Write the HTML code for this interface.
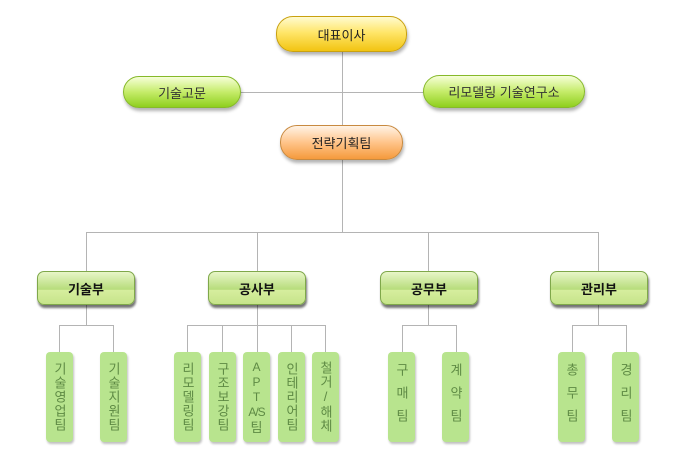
<!DOCTYPE html>
<html><head><meta charset="utf-8"><style>
body{margin:0;width:683px;height:458px;background:#fff;position:relative;overflow:hidden;font-family:"Liberation Sans","Noto Sans CJK KR",sans-serif}
.l{position:absolute;background:#b4b4b4}
.p{position:absolute;display:flex;align-items:center;justify-content:center;font-size:13px;box-sizing:border-box}
.pill{border-radius:17px;box-shadow:1px 3px 3px rgba(0,0,0,.3)}
.y{background:linear-gradient(#fffbd0,#ffe66a 45%,#f2c412);color:#222;border:1px solid #c9a10f}
.g{background:linear-gradient(#f6ffd8,#c5ec6a 50%,#8fcf1e);color:#333;border:1px solid #86b92a}
.o{background:linear-gradient(#fff3e6,#ffc48a 50%,#f59a3c);color:#222;border:1px solid #c88a40}
.d{border-radius:7px;background:linear-gradient(#e8f6c8,#b6dc7a 55%,#d6ee9e 56%,#c6e48a);color:#111;font-weight:bold;border:1px solid #7fa84a;box-shadow:1px 3px 2px rgba(0,0,0,.55)}
.s{border-radius:4px;background:#b8e48e;color:#5e8a44;width:27px;height:90px;top:352px;writing-mode:vertical-rl;text-orientation:upright;font-size:13px;letter-spacing:1px;box-shadow:1px 2px 2px rgba(0,0,0,.25)}
.apt{writing-mode:horizontal-tb;flex-direction:column;line-height:15px;font-size:12px;letter-spacing:0;text-align:center}
</style></head><body>
<div class="l" style="left:342px;top:52px;width:1px;height:181px"></div>
<div class="l" style="left:241px;top:92px;width:183px;height:1px"></div>
<div class="l" style="left:86px;top:232px;width:513px;height:1px"></div>
<div class="l" style="left:86px;top:232px;width:1px;height:40px"></div>
<div class="l" style="left:257px;top:232px;width:1px;height:40px"></div>
<div class="l" style="left:428px;top:232px;width:1px;height:40px"></div>
<div class="l" style="left:598px;top:232px;width:1px;height:40px"></div>
<div class="l" style="left:86px;top:305px;width:1px;height:20px"></div>
<div class="l" style="left:257px;top:305px;width:1px;height:47px"></div>
<div class="l" style="left:428px;top:305px;width:1px;height:20px"></div>
<div class="l" style="left:598px;top:305px;width:1px;height:20px"></div>
<div class="l" style="left:59px;top:325px;width:55px;height:1px"></div>
<div class="l" style="left:59px;top:325px;width:1px;height:27px"></div>
<div class="l" style="left:113px;top:325px;width:1px;height:27px"></div>
<div class="l" style="left:187px;top:325px;width:139px;height:1px"></div>
<div class="l" style="left:187px;top:325px;width:1px;height:27px"></div>
<div class="l" style="left:222px;top:325px;width:1px;height:27px"></div>
<div class="l" style="left:291px;top:325px;width:1px;height:27px"></div>
<div class="l" style="left:325px;top:325px;width:1px;height:27px"></div>
<div class="l" style="left:402px;top:325px;width:55px;height:1px"></div>
<div class="l" style="left:402px;top:325px;width:1px;height:27px"></div>
<div class="l" style="left:456px;top:325px;width:1px;height:27px"></div>
<div class="l" style="left:572px;top:325px;width:55px;height:1px"></div>
<div class="l" style="left:572px;top:325px;width:1px;height:27px"></div>
<div class="l" style="left:626px;top:325px;width:1px;height:27px"></div>

<div class="p pill y" style="left:276px;top:16px;width:131px;height:36px">대표이사</div>
<div class="p pill g" style="left:123px;top:76px;width:118px;height:32px">기술고문</div>
<div class="p pill g" style="left:423px;top:75px;width:162px;height:33px">리모델링 기술연구소</div>
<div class="p pill o" style="left:280px;top:125px;width:123px;height:35px">전략기획팀</div>

<div class="p d" style="left:37px;top:271px;width:98px;height:34px">기술부</div>
<div class="p d" style="left:208px;top:271px;width:98px;height:34px">공사부</div>
<div class="p d" style="left:380px;top:271px;width:98px;height:34px">공무부</div>
<div class="p d" style="left:550px;top:271px;width:98px;height:34px">관리부</div>

<div class="p s" style="left:46px">기술영업팀</div>
<div class="p s" style="left:100px">기술지원팀</div>
<div class="p s" style="left:174px">리모델링팀</div>
<div class="p s" style="left:209px">구조보강팀</div>
<div class="p s apt" style="left:243px"><div>A</div><div>P</div><div>T</div><div style="letter-spacing:-1px">A/S</div><div style="font-size:13px">팀</div></div>
<div class="p s" style="left:278px">인테리어팀</div>
<div class="p s" style="left:312px">철거/해체</div>
<div class="p s" style="left:388px;letter-spacing:10px">구매팀</div>
<div class="p s" style="left:442px;letter-spacing:10px">계약팀</div>
<div class="p s" style="left:558px;letter-spacing:10px">총무팀</div>
<div class="p s" style="left:612px;letter-spacing:10px">경리팀</div>
</body></html>
